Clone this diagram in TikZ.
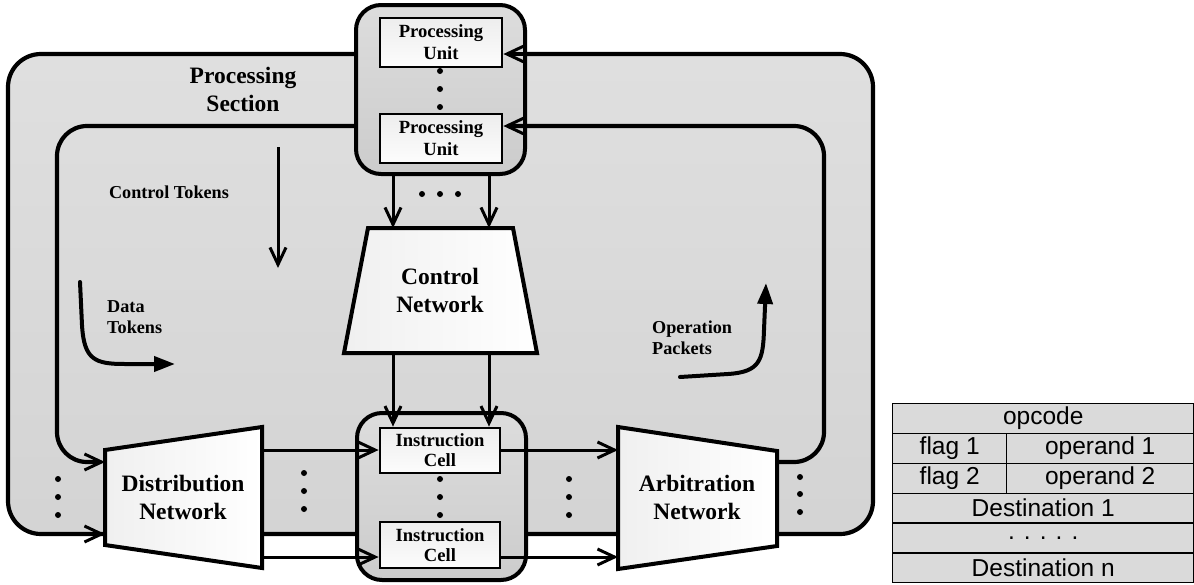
\documentclass[tikz,border=0pt]{standalone}
\usepackage{fontspec}
\setmainfont{Liberation Serif}
\newfontfamily\tablesans{Liberation Sans}
\usetikzlibrary{arrows.meta}

\definecolor{regiontop}{gray}{0.875}
\definecolor{regionbot}{gray}{0.83}
\definecolor{pantop}{gray}{0.865}
\definecolor{panbot}{gray}{0.80}
\definecolor{celltop}{gray}{0.93}
\definecolor{cellbot}{gray}{0.99}
\definecolor{tablegray}{gray}{0.855}

\tikzset{
  region/.style={line width=4.2pt, rounded corners=33pt, top color=regiontop, bottom color=regionbot},
  loopline/.style={line width=4.2pt, rounded corners=30pt},
  panel/.style={draw, line width=4pt, rounded corners=25pt, top color=pantop, bottom color=panbot, inner sep=0pt},
  unitbox/.style={draw, line width=2.8pt, top color=celltop, bottom color=cellbot, inner sep=0pt,
    minimum width=122pt, align=center, font=\bfseries\fontsize{18.6}{22}\selectfont},
  network/.style={draw, line width=4pt, line join=miter, left color=gray!12, right color=white},
  netlabel/.style={align=center, inner sep=0pt, font=\bfseries\fontsize{23.5}{28}\selectfont},
  caption/.style={align=left, inner sep=0pt, font=\bfseries\fontsize{18.2}{21}\selectfont},
  barb/.style={-{Straight Barb[length=17pt,width=16pt,line width=3pt]}},
  conn/.style={line width=3pt, barb},
  flow/.style={line width=4pt, line cap=round, -{Triangle[length=21pt,width=15pt]}},
  cell/.style={draw, line width=1.4pt, fill=tablegray, inner sep=0pt, minimum height=29.83pt,
    anchor=north west, font=\tablesans\fontsize{24.5}{28}\selectfont},
}

\begin{document}
\begin{tikzpicture}[x=1pt,y=-1pt]
\useasboundingbox (0,0) rectangle (1194,584);

% reference rows and columns used by the connectors
\coordinate (outerY) at (0,54);
\coordinate (innerY) at (0,126);
\coordinate (loopY) at (0,462);
\coordinate (baseY) at (0,534);
\coordinate (rowA) at (0,450);
\coordinate (rowB) at (0,557);
\coordinate (colL) at (393,0);
\coordinate (colR) at (489,0);

% processing section (outer loop)
\draw[region] (8,54) rectangle (873,534);
\node[netlabel] (sectionlabel) at (243,89) {Processing\\Section};

% processing units
\node[panel, minimum width=169pt, minimum height=169pt] (unitpanel) at (440.5,89.5) {};
\node[unitbox, minimum height=49pt] (pu1) at (441,42.5) {Processing\\Unit};
\node[unitbox, minimum height=49pt] (pu2) at (441,138.5) {Processing\\Unit};
\foreach \y in {71,89,107} \fill (440,\y) circle (3pt);

% instruction cells
\node[panel, minimum width=169pt, minimum height=167pt] (cellpanel) at (441.5,496.5) {};
\node[unitbox, minimum width=120pt, minimum height=45pt, font=\bfseries\fontsize{18.6}{20}\selectfont] (ic1) at (440,450.5) {Instruction\\Cell};
\node[unitbox, minimum width=120pt, minimum height=46pt, font=\bfseries\fontsize{18.6}{20}\selectfont] (ic2) at (440,545) {Instruction\\Cell};
\foreach \y in {479,497,515} \fill (440,\y) circle (3pt);

% networks
\draw[network] (368,228) coordinate (cnNW) -- (513,228) coordinate (cnNE)
  -- (537,353) coordinate (cnSE) -- (344,353) coordinate (cnSW) -- cycle;
\node[netlabel] (ctrlnet) at (440,290) {Control\\Network};

\draw[network] (105,450) coordinate (dnNW) -- (262,427) coordinate (dnNE)
  -- (262,568) coordinate (dnSE) -- (105,545) coordinate (dnSW) -- cycle;
\node[netlabel] (distnet) at (183,497) {Distribution\\Network};

\draw[network] (618,427) coordinate (anNW) -- (777,451) coordinate (anNE)
  -- (777,546) coordinate (anSE) -- (618,569) coordinate (anSW) -- cycle;
\node[netlabel] (arbnet) at (697,497) {Arbitration\\Network};

% outer loop entries
\draw[line width=4.2pt, barb] (unitpanel.east |- outerY) -- (pu1.east |- outerY);
\draw[line width=4.2pt, barb] (60,534) -- (dnNW |- baseY);

% inner loop
\draw[loopline, barb] (unitpanel.west |- innerY) -- (57,126) -- (57,462) -- (dnNW |- loopY);
\draw[loopline, barb] (anNE |- loopY) -- (824,462) -- (824,126) -- (pu2.east |- innerY);

% units -> control network -> cells
\draw[conn] (unitpanel.south -| colL) -- (colL |- cnNW);
\draw[conn] (unitpanel.south -| colR) -- (colR |- cnNW);
\foreach \x in {422,440,458} \fill (\x,194) circle (3pt);
\draw[conn] (colL |- cnSW) -- (colL |- ic1.north);
\draw[conn] (colR |- cnSW) -- (colR |- ic1.north);

% distribution -> cells -> arbitration
\draw[conn] (dnNE |- rowA) -- (ic1.west |- rowA);
\draw[conn] (dnNE |- rowB) -- (ic2.west |- rowB);
\draw[conn] (ic1.east |- rowA) -- (anNW |- rowA);
\draw[conn] (ic2.east |- rowB) -- (anNW |- rowB);
\foreach \y in {479,497,515} { \fill (58,\y) circle (3pt); \fill (569,\y) circle (3pt); }
\foreach \y in {473,491,509} \fill (304,\y) circle (3pt);
\foreach \y in {477,494,512} \fill (800,\y) circle (3pt);

% token flows
\node[caption] (ctrltok) at (169,192) {Control Tokens};
\coordinate (ctStart) at (278,147);
\coordinate (ctEnd) at (278,268);
\draw[conn] (ctStart) -- (ctEnd);

\node[caption, anchor=west] (datatok) at (107,317) {Data\\Tokens};
\coordinate (dtStart) at (80,282);
\coordinate (dtEnd) at (175,364);
\draw[flow] (dtStart) -- (82,325) .. controls (84,360) and (95,364) .. (125,364) -- (dtEnd);

\node[caption, anchor=west] (oppack) at (652,338) {Operation\\Packets};
\coordinate (opStart) at (680,377);
\coordinate (opEnd) at (766,283);
\draw[flow] (opStart) -- (728,374) .. controls (760,372) and (763,360) .. (764,330) -- (opEnd);

% operation packet format
\node[cell, minimum width=301pt] (opcode) at (892,403) {opcode};
\node[cell, minimum width=114pt] (flag1) at (892,432.83) {flag 1};
\node[cell, minimum width=187pt] (operand1) at (1006,432.83) {operand 1};
\node[cell, minimum width=114pt] (flag2) at (892,462.67) {flag 2};
\node[cell, minimum width=187pt] (operand2) at (1006,462.67) {operand 2};
\node[cell, minimum width=301pt] (dest1) at (892,492.5) {Destination 1};
\node[cell, minimum width=301pt] (destdots) at (892,522.33) {. . . . .};
\node[cell, minimum width=301pt] (destn) at (892,552.17) {Destination n};
\end{tikzpicture}
\end{document}
